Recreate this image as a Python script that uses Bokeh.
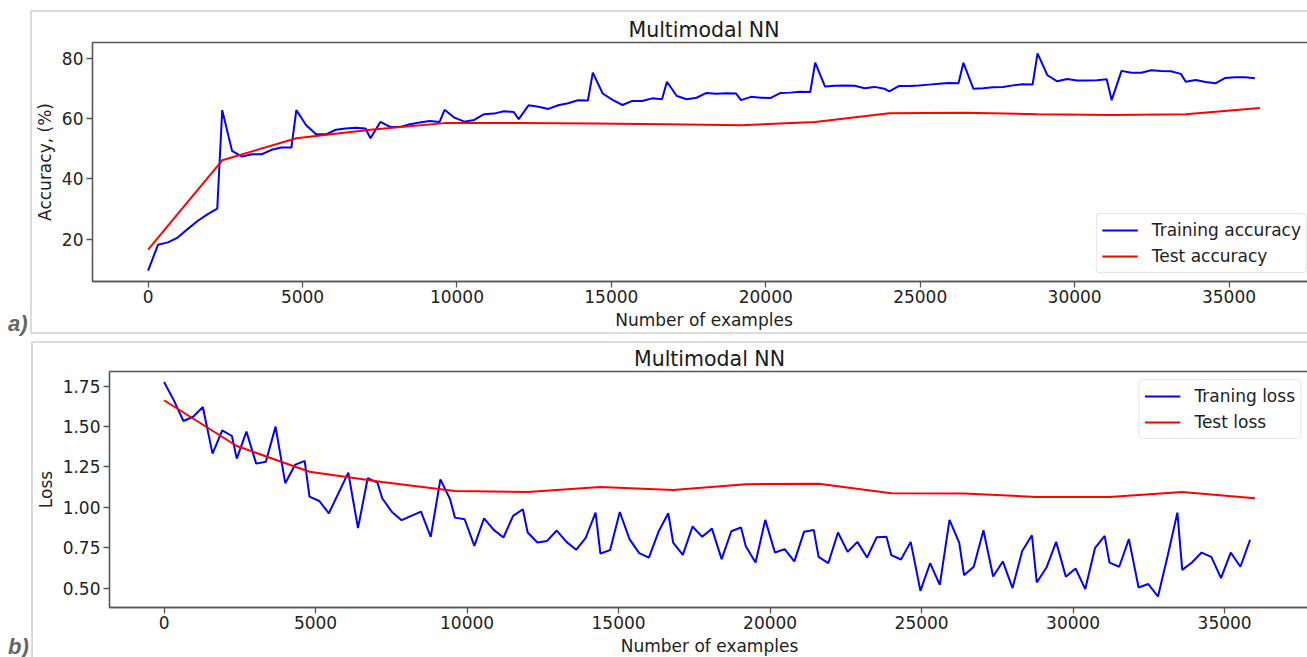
from bokeh.plotting import figure
from bokeh.layouts import column, row
from bokeh.models import (Range1d, FixedTicker, Legend, LegendItem, Div,
                          NumeralTickFormatter, GlobalInlineStyleSheet)
from bokeh.embed import file_html
from bokeh.resources import INLINE

# ---------------- data ----------------
EPOCH = 2400          # examples per evaluation
STEP = 320            # examples between training log points
N_EPOCHS = 15
PER_EPOCH = 8

train_x = [e * EPOCH + k * STEP for e in range(N_EPOCHS) for k in range(PER_EPOCH)]
test_x = [0, 2400, 4800, 7200, 9600, 12000, 14400, 16800, 19200, 21600,
          24000, 26400, 28800, 31200, 33600, 36000]

train_acc = [
    9.65, 18.2, 19.0, 20.6, 23.4, 26.1, 28.3, 30.2,
    62.8, 49.3, 47.4, 48.2, 48.2, 49.65, 50.4, 50.4,
    62.8, 57.8, 54.8, 54.8, 56.3, 56.7, 57.0, 56.7,
    53.5, 58.9, 57.25, 57.25, 58.1, 58.7, 59.2, 58.9,
    62.9, 60.3, 59.0, 59.57, 61.45, 61.65, 62.4, 62.2,
    59.8, 64.4, 63.9, 63.2, 64.4, 65.1, 66.1, 66.0,
    75.2, 68.3, 66.2, 64.5, 65.85, 65.8, 66.7, 66.4,
    72.2, 67.5, 66.4, 66.9, 68.5, 68.2, 68.4, 68.3,
    66.1, 67.2, 66.9, 66.85, 68.5, 68.6, 68.9, 68.8,
    78.5, 70.6, 70.9, 71.0, 70.9, 70.05, 70.5, 69.9,
    69.05, 70.8, 70.8, 71.0, 71.25, 71.5, 71.8, 71.7,
    78.5, 69.9, 70.05, 70.4, 70.5, 71.0, 71.4, 71.25,
    81.6, 74.35, 72.35, 73.1, 72.6, 72.6, 72.7, 73.0,
    66.1, 75.8, 75.2, 75.2, 76.0, 75.8, 75.7, 74.8,
    72.2, 72.8, 72.1, 71.7, 73.45, 73.7, 73.7, 73.35]

test_acc = [16.6, 46.2, 53.5, 56.3, 58.5, 58.5, 58.35, 58.1, 57.8, 58.9,
            61.8, 61.9, 61.45, 61.2, 61.45, 63.5]

train_loss = [
    1.775, 1.663, 1.534, 1.56, 1.62, 1.332, 1.476, 1.441,
    1.301, 1.468, 1.27, 1.282, 1.499, 1.149, 1.262, 1.287,
    1.066, 1.039, 0.963, 1.089, 1.214, 0.871, 1.18, 1.153,
    1.056, 0.971, 0.92, 0.947, 0.973, 0.817, 1.173, 1.05,
    0.936, 0.926, 0.761, 0.932, 0.86, 0.813, 0.947, 0.988,
    0.844, 0.782, 0.792, 0.856, 0.786, 0.737, 0.813, 0.967,
    0.714, 0.735, 0.971, 0.803, 0.716, 0.689, 0.85, 0.963,
    0.782, 0.706, 0.881, 0.817, 0.868, 0.679, 0.852, 0.875,
    0.757, 0.658, 0.922, 0.72, 0.741, 0.665, 0.848, 0.86,
    0.693, 0.654, 0.844, 0.724, 0.786, 0.689, 0.815, 0.817,
    0.704, 0.677, 0.786, 0.483, 0.654, 0.52, 0.922, 0.782,
    0.58, 0.632, 0.858, 0.572, 0.665, 0.5, 0.73, 0.827,
    0.535, 0.627, 0.786, 0.57, 0.621, 0.494, 0.747, 0.823,
    0.658, 0.632, 0.803, 0.504, 0.525, 0.448, 0.70, 0.967,
    0.613, 0.658, 0.72, 0.693, 0.562, 0.72, 0.632, 0.799]

test_loss = [1.662, 1.379, 1.22, 1.157, 1.10, 1.095, 1.126, 1.107, 1.143,
             1.146, 1.087, 1.085, 1.064, 1.064, 1.095, 1.056]

x_ticks = [0, 5000, 10000, 15000, 20000, 25000, 30000, 35000]
acc_ticks = [20, 40, 60, 80]
loss_ticks = [0.50, 0.75, 1.00, 1.25, 1.50, 1.75]

title_text = "Multimodal NN"
x_label = "Number of examples"
panel_a = "a)"
panel_b = "b)"

FONT = "DejaVu Sans"
TXT = "#222222"
AX = "#555555"
BOX = "#dcdcdc"


def style(p, ylabel, yticks):
    p.title.text = title_text
    p.title.text_font = FONT
    p.title.text_font_size = "20.5px"
    p.title.text_font_style = "normal"
    p.title.text_color = "#1a1a1a"
    p.title.align = "center"
    p.title.standoff = 1
    p.grid.visible = False
    p.outline_line_color = AX
    p.outline_line_width = 1.3
    for ax in (p.xaxis[0], p.yaxis[0]):
        ax.axis_line_color = AX
        ax.axis_line_width = 1.3
        ax.major_tick_line_color = AX
        ax.major_tick_line_width = 1.3
        ax.major_tick_out = 6
        ax.major_tick_in = 0
        ax.minor_tick_line_color = None
        ax.major_label_text_font = FONT
        ax.major_label_text_font_size = "17px"
        ax.major_label_text_color = TXT
        ax.major_label_standoff = 3
        ax.axis_label_text_font = FONT
        ax.axis_label_text_font_size = "17px"
        ax.axis_label_text_font_style = "normal"
        ax.axis_label_text_color = TXT
        ax.axis_label_standoff = 4
    p.xaxis[0].major_label_standoff = 2
    p.xaxis[0].ticker = FixedTicker(ticks=x_ticks)
    p.yaxis[0].ticker = FixedTicker(ticks=yticks)
    p.xaxis[0].axis_label = x_label
    p.yaxis[0].axis_label = ylabel


def make_legend(items, location):
    lg = Legend(items=items, location=location)
    lg.label_text_font = FONT
    lg.label_text_font_size = "17px"
    lg.label_text_color = TXT
    lg.glyph_width = 36
    lg.glyph_height = 22
    lg.label_height = 22
    lg.label_standoff = 14
    lg.padding = 5
    lg.spacing = 4
    lg.margin = 8
    lg.border_line_color = "#cccccc"
    lg.border_line_width = 1
    lg.background_fill_color = "white"
    lg.background_fill_alpha = 0.8
    if "border_radius" in Legend.properties():
        lg.border_radius = 4
    return lg


def panel_label(text, width, height, top, box):
    bl, bt, bw, bh, extra = box
    html = (
        '<div style="position:relative;width:0;height:0;">'
        '<div style="position:absolute;left:%dpx;top:%dpx;width:%dpx;height:%dpx;'
        'box-sizing:border-box;border:2px solid %s;border-right:none;%s'
        'pointer-events:none;z-index:5;"></div></div>'
        '<div style="position:relative;left:8px;top:%dpx;'
        'font-family:\'Liberation Sans\',Arial,sans-serif;font-size:22px;'
        'font-weight:bold;font-style:italic;color:#666666;'
        'line-height:20px;white-space:nowrap;">%s</div>'
        % (bl, bt, bw, bh, BOX, extra, top, text))
    return Div(text=html, width=width, height=height, margin=0)


# ---------------- panel a ----------------
p1 = figure(frame_width=1223, frame_height=239, x_range=Range1d(-1800, 37800),
            y_range=Range1d(6.05, 85.2), output_backend="svg",
            toolbar_location=None, min_border_left=60, min_border_right=0,
            min_border_top=42, min_border_bottom=56, margin=0)
style(p1, "Accuracy, (%)", acc_ticks)
r1 = p1.line(train_x, train_acc, line_color="#0000ff", line_width=2)
r2 = p1.line(test_x, test_acc, line_color="#ff0000", line_width=2)
p1.add_layout(make_legend([LegendItem(label="Training accuracy", renderers=[r1]),
                           LegendItem(label="Test accuracy", renderers=[r2])],
                          "bottom_right"))

# ---------------- panel b ----------------
p2 = figure(frame_width=1200, frame_height=236, x_range=Range1d(-1800, 37800),
            y_range=Range1d(0.38, 1.84), output_backend="svg",
            toolbar_location=None, min_border_left=76, min_border_right=0,
            min_border_top=34, min_border_bottom=50, margin=0)
style(p2, "Loss", loss_ticks)
p2.yaxis[0].formatter = NumeralTickFormatter(format="0.00")
r3 = p2.line(train_x, train_loss, line_color="#0000ff", line_width=2)
r4 = p2.line(test_x, test_loss, line_color="#ff0000", line_width=2)
p2.add_layout(make_legend([LegendItem(label="Traning loss", renderers=[r3]),
                           LegendItem(label="Test loss", renderers=[r4])],
                          "top_right"))

div_a = panel_label(panel_a, 31, 337, 314, (30, 10, 1277, 324, ""))
div_b = panel_label(panel_b, 32, 320, 300, (31, 4, 1276, 316, "border-bottom:none;"))

layout = column(row(div_a, p1, spacing=0), row(div_b, p2, spacing=0), spacing=0)
layout.stylesheets = [GlobalInlineStyleSheet(css="html, body { overflow: hidden !important; }")]
open("out.html", "w").write(file_html(layout, INLINE))
